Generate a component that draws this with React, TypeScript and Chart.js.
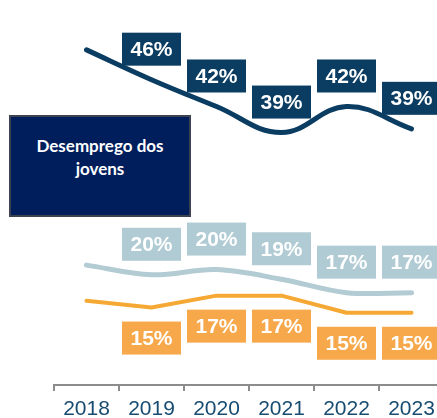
import React, { useEffect, useRef } from "react";
import { Chart, registerables } from "chart.js";

Chart.register(...registerables);

const years = ["2018", "2019", "2020", "2021", "2022", "2023"];
const youthUnemployment = [50.0, 46.0, 42.4, 38.9, 42.4, 39.4];
const seriesLight = [21.1, 19.8, 20.5, 19.2, 17.4, 17.4];
const seriesOrange = [16.3, 15.4, 17.0, 17.0, 14.7, 14.7];
const youthLabels = ["", "46%", "42%", "39%", "42%", "39%"];
const lightLabels = ["", "20%", "20%", "19%", "17%", "17%"];
const orangeLabels = ["", "15%", "17%", "17%", "15%", "15%"];

const boxLabels = {
  id: "boxLabels",
  afterDatasetsDraw(chart: any, _args: any, opts: any) {
    const ctx = chart.ctx;
    const cfgs = opts.items || [];
    ctx.save();
    cfgs.forEach((cfg: any, i: number) => {
      const meta = chart.getDatasetMeta(i);
      meta.data.forEach((pt: any, j: number) => {
        const text = cfg.texts[j];
        if (!text) return;
        const w = 59, h = 33, off = 14;
        const x = pt.x - w / 2;
        const y = cfg.position === "above" ? pt.y - off - h : pt.y + off;
        ctx.fillStyle = cfg.bg;
        ctx.fillRect(x, y, w, h);
        ctx.fillStyle = "#ffffff";
        ctx.font = "bold 21px 'Liberation Sans', Arial, sans-serif";
        ctx.textAlign = "center";
        ctx.textBaseline = "middle";
        ctx.fillText(text, pt.x, y + h / 2 + 1);
      });
    });
    ctx.restore();
  },
};

export default function App() {
  const ref = useRef<HTMLCanvasElement | null>(null);
  useEffect(() => {
    if (!ref.current) return;
    const chart = new Chart(ref.current, {
      type: "line",
      data: {
        labels: years,
        datasets: [
          {
            data: youthUnemployment,
            borderColor: "#0b3d62",
            borderWidth: 5,
            tension: 0.4,
            pointRadius: 0,
            borderCapStyle: "round",
            fill: false,
          },
          {
            data: seriesLight,
            borderColor: "#b3cbd3",
            borderWidth: 5,
            tension: 0.35,
            pointRadius: 0,
            borderCapStyle: "round",
            fill: false,
          },
          {
            data: seriesOrange,
            borderColor: "#f5a833",
            borderWidth: 4,
            tension: 0,
            pointRadius: 0,
            borderCapStyle: "round",
            borderJoinStyle: "round",
            fill: false,
          },
        ],
      },
      options: {
        responsive: false,
        animation: false,
        layout: { padding: { left: 54, right: 6, top: 0, bottom: 0 } },
        plugins: {
          legend: { display: false },
          tooltip: { enabled: false },
          boxLabels: {
            items: [
              { texts: youthLabels, position: "above", bg: "#0b3d62" },
              { texts: lightLabels, position: "above", bg: "#b0cbd3" },
              { texts: orangeLabels, position: "below", bg: "#f6a84b" },
            ],
          },
        } as any,
        scales: {
          x: {
            type: "category",
            offset: true,
            grid: {
              offset: true,
              drawOnChartArea: false,
              drawTicks: true,
              tickLength: 6,
              color: "#8c8c8c",
              lineWidth: 2,
            },
            border: { display: true, color: "#8c8c8c", width: 2 },
            ticks: {
              color: "#174b70",
              font: { family: "'Liberation Sans', Arial, sans-serif", size: 21 },
              padding: 6,
              maxRotation: 0,
              autoSkip: false,
            },
            afterFit: (s: any) => {
              s.height = 33;
            },
          },
          y: { display: false, min: 5, max: 56.7 },
        },
      },
      plugins: [boxLabels],
    });
    return () => chart.destroy();
  }, []);

  return (
    <div
      style={{
        position: "fixed",
        left: 0,
        top: 0,
        width: 437,
        height: 418,
        overflow: "hidden",
        background: "#ffffff",
      }}
    >
      <canvas ref={ref} width={450} height={418} style={{ width: 450, height: 418, display: "block" }} />
      <div
        style={{
          position: "absolute",
          left: 9,
          top: 115,
          width: 178,
          height: 81,
          background: "#001e5c",
          border: "2px solid #3d4250",
          color: "#ffffff",
          fontFamily: "Lato, 'Noto Sans', sans-serif",
          fontWeight: 700,
          fontSize: 17,
          lineHeight: "23px",
          textAlign: "center",
          paddingTop: 17,
          boxSizing: "content-box",
        }}
      >
        Desemprego dos
        <br />
        jovens
      </div>
    </div>
  );
}
